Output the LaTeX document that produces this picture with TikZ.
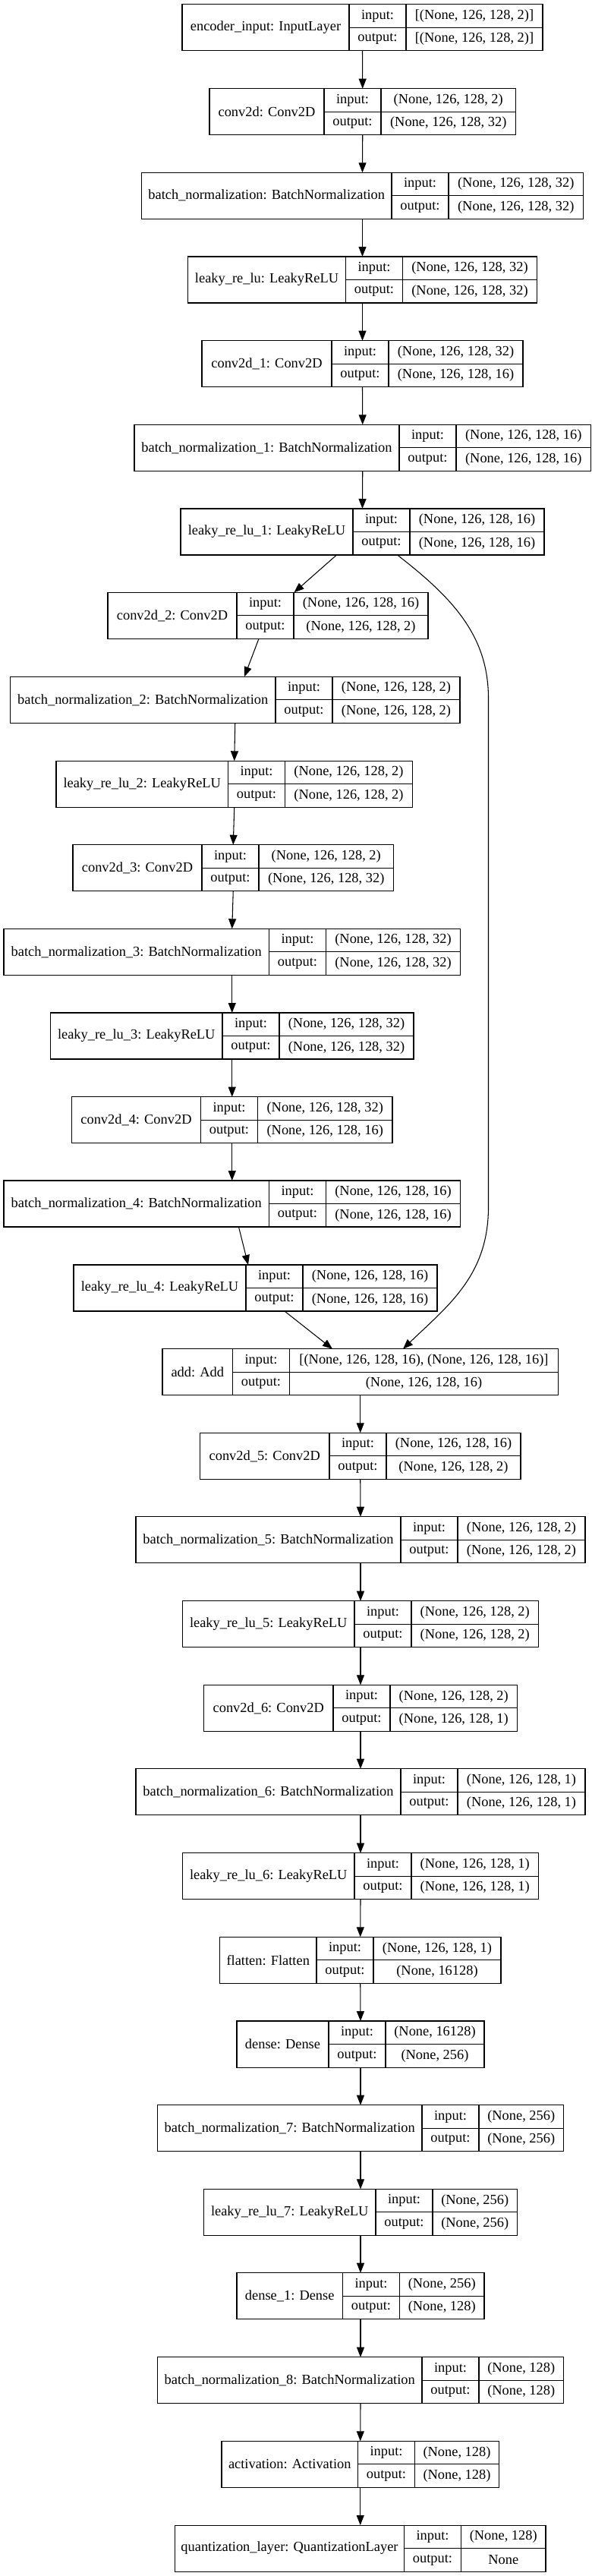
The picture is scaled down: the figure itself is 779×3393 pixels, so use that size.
\documentclass[tikz,border=0pt]{standalone}
\usepackage{fontspec}
\setmainfont{Liberation Serif}
\usetikzlibrary{arrows.meta,calc}

\tikzset{
  cell/.style={draw, line width=0.8pt, inner sep=0pt, outer sep=0pt, anchor=north west},
  txt/.style={inner sep=0pt, font=\fontsize{13.8}{16}\selectfont},
  edge/.style={line width=0.8pt, -{Triangle[length=9.75pt,width=7.5pt]}},
}

% #1 name, #2 left, #3 first divider, #4 right, #5 top, #6 title, #7 input, #8 output
\newcommand{\layerbox}[8]{%
  \node[cell, minimum width={(#4-#2)*0.75pt}, minimum height=45.75pt] (#1) at (#2,#5) {};
  \draw[line width=0.8pt] (#3,#5) -- ++(0,61) ({#3+75},#5) -- ++(0,61) (#3,{#5+30.5}) -- (#4,{#5+30.5});
  \node[txt] (#1-name) at ({(#2+#3)/2},{#5+30.5}) {#6};
  \node[txt] (#1-inl) at ({#3+37.5},{#5+15.25}) {input:};
  \node[txt] (#1-outl) at ({#3+37.5},{#5+45.75}) {output:};
  \node[txt] (#1-in) at ({(#3+75+#4)/2},{#5+15.25}) {#7};
  \node[txt] (#1-out) at ({(#3+75+#4)/2},{#5+45.75}) {#8};
}

\begin{document}
\begin{tikzpicture}[x=0.75pt,y=-0.75pt]
\fill[white] (0,0) rectangle (779,3393);
\useasboundingbox (0,0) rectangle (779,3393);

\layerbox{inp}{240}{460}{715}{5.7}{encoder\_input: InputLayer}{[(None, 126, 128, 2)]}{[(None, 126, 128, 2)]}
\layerbox{c0}{276}{427}{679.5}{116.7}{conv2d: Conv2D}{(None, 126, 128, 2)}{(None, 126, 128, 32)}
\layerbox{bn0}{186.5}{516}{768.5}{227.3}{batch\_normalization: BatchNormalization}{(None, 126, 128, 32)}{(None, 126, 128, 32)}
\layerbox{lr0}{247.5}{455.5}{707.5}{338}{leaky\_re\_lu: LeakyReLU}{(None, 126, 128, 32)}{(None, 126, 128, 32)}
\layerbox{c1}{266}{437}{689}{448.7}{conv2d\_1: Conv2D}{(None, 126, 128, 32)}{(None, 126, 128, 16)}
\layerbox{bn1}{177}{526}{778.5}{559.3}{batch\_normalization\_1: BatchNormalization}{(None, 126, 128, 16)}{(None, 126, 128, 16)}
\layerbox{lr1}{238}{465}{717}{670}{leaky\_re\_lu\_1: LeakyReLU}{(None, 126, 128, 16)}{(None, 126, 128, 16)}
\layerbox{c2}{142}{312}{564}{780.3}{conv2d\_2: Conv2D}{(None, 126, 128, 16)}{(None, 126, 128, 2)}
\layerbox{bn2}{13.5}{363}{606}{891.3}{batch\_normalization\_2: BatchNormalization}{(None, 126, 128, 2)}{(None, 126, 128, 2)}
\layerbox{lr2}{74}{300.5}{543.5}{1002.3}{leaky\_re\_lu\_2: LeakyReLU}{(None, 126, 128, 2)}{(None, 126, 128, 2)}
\layerbox{c3}{96}{266}{518.5}{1112.7}{conv2d\_3: Conv2D}{(None, 126, 128, 2)}{(None, 126, 128, 32)}
\layerbox{bn3}{5}{354.5}{606.5}{1223.3}{batch\_normalization\_3: BatchNormalization}{(None, 126, 128, 32)}{(None, 126, 128, 32)}
\layerbox{lr3}{66.5}{293}{545}{1334}{leaky\_re\_lu\_3: LeakyReLU}{(None, 126, 128, 32)}{(None, 126, 128, 32)}
\layerbox{c4}{94.5}{264.5}{517}{1444.7}{conv2d\_4: Conv2D}{(None, 126, 128, 32)}{(None, 126, 128, 16)}
\layerbox{bn4}{5}{354.5}{606.5}{1555}{batch\_normalization\_4: BatchNormalization}{(None, 126, 128, 16)}{(None, 126, 128, 16)}
\layerbox{lr4}{97}{324}{576}{1666}{leaky\_re\_lu\_4: LeakyReLU}{(None, 126, 128, 16)}{(None, 126, 128, 16)}
\layerbox{add}{214}{306.5}{735.5}{1776.7}{add: Add}{[(None, 126, 128, 16), (None, 126, 128, 16)]}{(None, 126, 128, 16)}
\layerbox{c5}{263.5}{434}{686}{1887.3}{conv2d\_5: Conv2D}{(None, 126, 128, 16)}{(None, 126, 128, 2)}
\layerbox{bn5}{179}{528}{771}{1997.7}{batch\_normalization\_5: BatchNormalization}{(None, 126, 128, 2)}{(None, 126, 128, 2)}
\layerbox{lr5}{240.5}{467}{709.5}{2108.7}{leaky\_re\_lu\_5: LeakyReLU}{(None, 126, 128, 2)}{(None, 126, 128, 2)}
\layerbox{c6}{268.5}{439}{681.5}{2219.3}{conv2d\_6: Conv2D}{(None, 126, 128, 2)}{(None, 126, 128, 1)}
\layerbox{bn6}{179}{528}{771}{2329.7}{batch\_normalization\_6: BatchNormalization}{(None, 126, 128, 1)}{(None, 126, 128, 1)}
\layerbox{lr6}{240.5}{467}{709.5}{2440.7}{leaky\_re\_lu\_6: LeakyReLU}{(None, 126, 128, 1)}{(None, 126, 128, 1)}
\layerbox{flat}{289.5}{417}{660}{2551.3}{flatten: Flatten}{(None, 126, 128, 1)}{(None, 16128)}
\layerbox{d0}{312}{433}{638}{2662}{dense: Dense}{(None, 16128)}{(None, 256)}
\layerbox{bn7}{207.5}{556}{742.5}{2772.7}{batch\_normalization\_7: BatchNormalization}{(None, 256)}{(None, 256)}
\layerbox{lr7}{268.5}{495}{681.5}{2883.3}{leaky\_re\_lu\_7: LeakyReLU}{(None, 256)}{(None, 256)}
\layerbox{d1}{312}{451.5}{638}{2993.7}{dense\_1: Dense}{(None, 256)}{(None, 128)}
\layerbox{bn8}{207.5}{556}{742.5}{3104.7}{batch\_normalization\_8: BatchNormalization}{(None, 128)}{(None, 128)}
\layerbox{act}{292}{471.5}{657.5}{3215.3}{activation: Activation}{(None, 128)}{(None, 128)}
\layerbox{q}{230.5}{532.5}{719}{3326}{quantization\_layer: QuantizationLayer}{(None, 128)}{None}

% straight chain
\foreach \a/\b in {inp/c0, c0/bn0, bn0/lr0, lr0/c1, c1/bn1, bn1/lr1, bn2/lr2, lr2/c3, c3/bn3, bn3/lr3, lr3/c4, c4/bn4,
  add/c5, c5/bn5, bn5/lr5, lr5/c6, c6/bn6, bn6/lr6, lr6/flat, flat/d0, d0/bn7, bn7/lr7, lr7/d1, d1/bn8, bn8/act, act/q}
  \draw[edge] (\a.south) -- (\b.north);

% slanted ones
\draw[edge] ($(lr1.south)+(-34,0)$) -- ($(c2.north)+(34.5,0)$);
\draw[edge] ($(c2.south)+(-12,0)$) -- ($(bn2.north)+(12.25,0)$);
\draw[edge] ($(bn4.south)+(8.75,0)$) -- ($(lr4.north)+(-9.5,0)$);
\draw[edge] ($(lr4.south)+(38.5,0)$) -- ($(add.north)+(-36.75,0)$);

% skip connection
\draw[edge] ($(lr1.south)+(46,0)$) .. controls (600,790) and (643.5,840) .. (643.5,920)
  -- (643.5,1590) .. controls (643.5,1680) and (590,1720) .. ($(add.north)+(56.25,0)$);
\end{tikzpicture}
\end{document}
